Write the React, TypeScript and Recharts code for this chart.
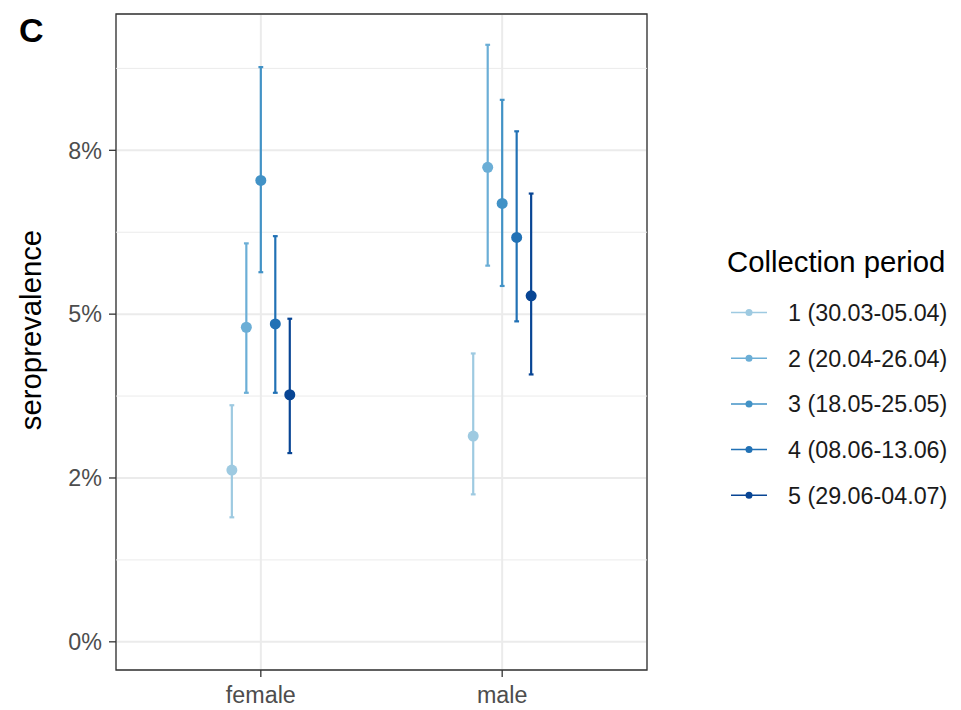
import React from 'react';
import {
  ScatterChart, Scatter, ErrorBar, XAxis, YAxis, CartesianGrid,
  ReferenceLine, ReferenceArea
} from 'recharts';

const categories = ['female', 'male'];
const periods = ['1 (30.03-05.04)', '2 (20.04-26.04)', '3 (18.05-25.05)', '4 (08.06-13.06)', '5 (29.06-04.07)'];
const colors = ['#9ecae1', '#6baed6', '#4292c6', '#2171b5', '#084594'];

// estimate, lower and upper bound per period (1..5)
const estFemale = [0.0262, 0.0480, 0.0704, 0.0485, 0.0377];
const loFemale = [0.0190, 0.0380, 0.0564, 0.0380, 0.0288];
const hiFemale = [0.0361, 0.0608, 0.0877, 0.0619, 0.0493];
const estMale = [0.0314, 0.0724, 0.0669, 0.0617, 0.0528];
const loMale = [0.0225, 0.0574, 0.0543, 0.0489, 0.0408];
const hiMale = [0.0440, 0.0911, 0.0827, 0.0779, 0.0684];

const yTicks = [0, 0.025, 0.05, 0.075];
const yTickLabels = ['0%', '2%', '5%', '8%'];
const yMinor = [0.0125, 0.0375, 0.0625, 0.0875];

const Y_MIN = -0.0043;
const Y_MAX = 0.0958;
const DODGE = 0.06;
const FONT = '"Liberation Sans", Arial, Helvetica, sans-serif';
const SMALL = 23.3;
const BIG = 29.3;

const est = [estFemale, estMale];
const lo = [loFemale, loMale];
const hi = [hiFemale, hiMale];

const seriesData = periods.map((_, i) =>
  categories.map((_c, j) => ({
    x: j + 1 + (i - 2) * DODGE,
    y: est[j][i],
    err: [est[j][i] - lo[j][i], hi[j][i] - est[j][i]],
  }))
);

const App: React.FC = () => {
  return (
    <div style={{ position: 'absolute', left: 0, top: 0, width: 961, height: 710, background: '#fff', fontFamily: FONT }}>
      <ScatterChart width={961} height={710} margin={{ top: 14, right: 314, bottom: 0, left: 0 }}>
        <CartesianGrid stroke="#ebebeb" strokeWidth={2} />
        {yMinor.map((v) => (
          <ReferenceLine key={v} y={v} stroke="#ebebeb" strokeWidth={1} />
        ))}
        <XAxis
          type="number"
          dataKey="x"
          domain={[0.4, 2.6]}
          allowDataOverflow
          ticks={[1, 2]}
          tickFormatter={(v: number) => categories[Math.round(v) - 1]}
          axisLine={false}
          tickSize={7}
          tickMargin={9}
          tickLine={{ stroke: '#333', strokeWidth: 1.3 }}
          tick={{ fill: '#4d4d4d', fontSize: SMALL, fontFamily: FONT }}
          height={40}
        />
        <YAxis
          type="number"
          dataKey="y"
          domain={[Y_MIN, Y_MAX]}
          allowDataOverflow
          ticks={yTicks}
          tickFormatter={(v: number) => yTickLabels[yTicks.indexOf(v)]}
          axisLine={false}
          tickSize={7}
          tickMargin={7}
          tickLine={{ stroke: '#333', strokeWidth: 1.3 }}
          tick={{ fill: '#4d4d4d', fontSize: SMALL, fontFamily: FONT }}
          width={116}
        />
        <ReferenceArea x1={0.4} x2={2.6} y1={Y_MIN} y2={Y_MAX} fill="none" stroke="#333" strokeWidth={1.3} />
        {periods.map((p, i) => (
          <Scatter
            key={p}
            name={p}
            data={seriesData[i]}
            fill={colors[i]}
            isAnimationActive={false}
            shape={(props: any) => <circle cx={props.cx} cy={props.cy} r={5.5} fill={colors[i]} />}
          >
            <ErrorBar dataKey="err" direction="y" width={2.4} stroke={colors[i]} strokeWidth={2.2} />
          </Scatter>
        ))}
      </ScatterChart>
      <svg width={961} height={710} style={{ position: 'absolute', left: 0, top: 0, pointerEvents: 'none' }}>
        <text x={19} y={42} fontSize={34} fontWeight="bold" fill="#000" fontFamily={FONT}>C</text>
        <text
          x={41}
          y={330}
          fontSize={BIG}
          fill="#000"
          fontFamily={FONT}
          textAnchor="middle"
          transform="rotate(-90 41 330)"
        >
          seroprevalence
        </text>
        <text x={727} y={272} fontSize={BIG} fill="#000" fontFamily={FONT}>Collection period</text>
        {periods.map((p, i) => {
          const cy = 312.5 + i * 45.7;
          return (
            <g key={p}>
              <line x1={731} x2={767} y1={cy} y2={cy} stroke={colors[i]} strokeWidth={1.5} />
              <circle cx={749} cy={cy} r={3.5} fill={colors[i]} />
              <text x={788} y={cy + 8.3} fontSize={SMALL} fill="#1a1a1a" fontFamily={FONT}>{p}</text>
            </g>
          );
        })}
      </svg>
    </div>
  );
};

export default App;
